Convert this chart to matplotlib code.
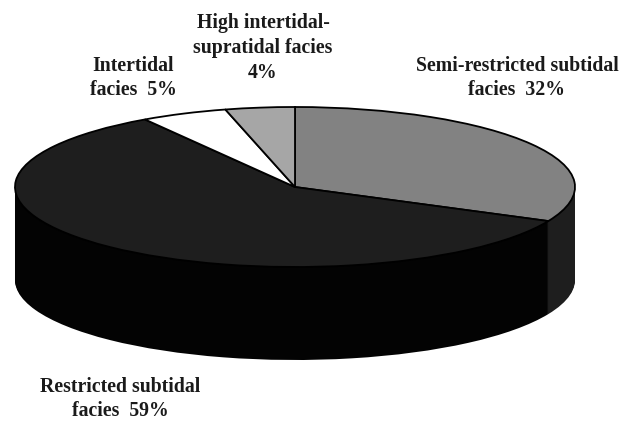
import numpy as np
import matplotlib
matplotlib.use("Agg")
import matplotlib.pyplot as plt

labels = ["Semi-restricted subtidal\nfacies  32%", "Restricted subtidal\nfacies  59%",
          "Intertidal\nfacies  5%", "High intertidal-\nsupratidal facies\n4%"]
values = [32, 59, 5, 4]
top_colors = ["#828282", "#1e1e1e", "#ffffff", "#a6a6a6"]
side_colors = ["#1e1e1e", "#030303", "#030303", "#030303"]
label_pos = [(517, 78), (120, 399), (133, 78), (263, 48)]

W, H = 626, 424
cx, cy, rx, ry, depth = 295, 187, 280, 80, 93

fig = plt.figure(figsize=(W/100, H/100), dpi=100, facecolor="white")
ax = fig.add_axes([0, 0, 1, 1])
depths = np.arange(depth, 0, -1) / ry
for d in depths:
    ax.pie(values, colors=side_colors, startangle=90, counterclock=False, center=(0, -d),
           wedgeprops=dict(linewidth=0))
ax.pie(values, colors=top_colors, startangle=90, counterclock=False,
       wedgeprops=dict(linewidth=1.3, edgecolor="#000000"))
ax.set_aspect("auto")
ax.set_xlim(-cx/rx, (W-cx)/rx)
ax.set_ylim((cy-H)/ry, cy/ry)
ax.axis("off")

for t, (px, py) in zip(labels, label_pos):
    ax.text((px-cx)/rx, (cy-py)/ry, t, ha="center", va="center", fontsize=14.2,
            fontweight="bold", family="Liberation Serif", linespacing=1.32, color="#1a1a1a")

fig.savefig("out.png", dpi=100, facecolor="white")
